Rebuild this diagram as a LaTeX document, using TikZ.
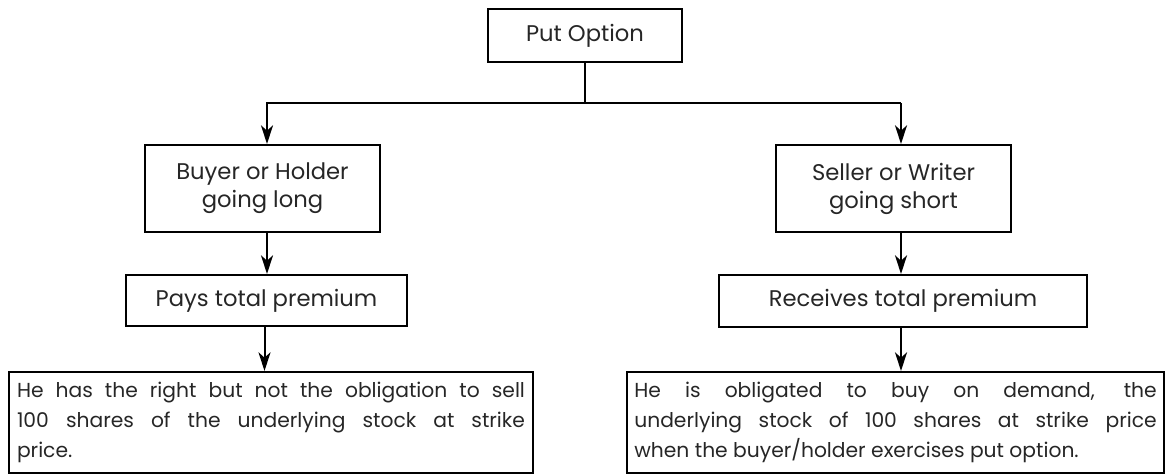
\documentclass[tikz,border=0pt]{standalone}
\usepackage{fontspec}
\setmainfont{Poppins}
\usetikzlibrary{arrows.meta}

\tikzset{
  box/.style={draw=black, line width=1.5pt, rectangle, inner sep=0pt,
              align=center, font=\fontsize{17}{21}\selectfont, text=black!85},
  descbox/.style={draw=black, line width=1.5pt, rectangle, inner ysep=0pt,
              align=justify, font=\fontsize{15.2}{22.5}\selectfont, text=black!85},
  arr/.style={line width=1.5pt, -{Stealth[length=14pt, width=9pt, inset=4pt]}},
  link/.style={line width=1.5pt}
}

\begin{document}
\begin{tikzpicture}[x=0.75pt, y=-0.75pt]
  \useasboundingbox (0,0) rectangle (1167,475);

  % top node
  \node[box, minimum width=145.5pt, minimum height=39.75pt] (put) at (585,35.5) {Put Option};

  % two branches
  \node[box, minimum width=176.25pt, minimum height=65.25pt] (buyer) at (262.5,188.5)
       {Buyer or Holder\\going long};
  \node[box, minimum width=176.25pt, minimum height=65.25pt] (seller) at (893.5,188.5)
       {Seller or Writer\\going short};

  % premium boxes
  \node[box, minimum width=210.75pt, minimum height=38.25pt] (pays) at (266.5,300.5)
       {Pays total premium};
  \node[box, minimum width=276pt, minimum height=39pt] (receives) at (903,301)
       {Receives total premium};

  % descriptions
  \node[descbox, inner xsep=6pt, text width=381pt, minimum height=75.75pt] (ldesc) at (271,422.5)
       {He has the right but not the obligation to sell\linebreak
        100 shares of the underlying stock at strike\linebreak
        price.};
  \node[descbox, inner xsep=5.5pt, text width=391.75pt, minimum height=75.75pt] (rdesc) at (895.5,422.5)
       {He is obligated to buy on demand, the\linebreak
        underlying stock of 100 shares at strike price\linebreak
        when the buyer/holder exercises put option.};

  % branching connector
  \coordinate (jL) at (267,103);
  \coordinate (jR) at (901,103);
  \draw[link] (put.south) -- (put.south |- jL);
  \draw[arr] (jR) -- (jL) -- (jL |- buyer.north);
  \draw[arr] (jR) -- (jR |- seller.north);

  % vertical flow
  \draw[arr] (jL |- buyer.south) -- (jL |- pays.north);
  \draw[arr] ([xshift=-1.5pt]pays.south) -- ([xshift=-1.5pt]pays.south |- ldesc.north);
  \draw[arr] (jR |- seller.south) -- (jR |- receives.north);
  \draw[arr] (jR |- receives.south) -- (jR |- rdesc.north);
\end{tikzpicture}
\end{document}
